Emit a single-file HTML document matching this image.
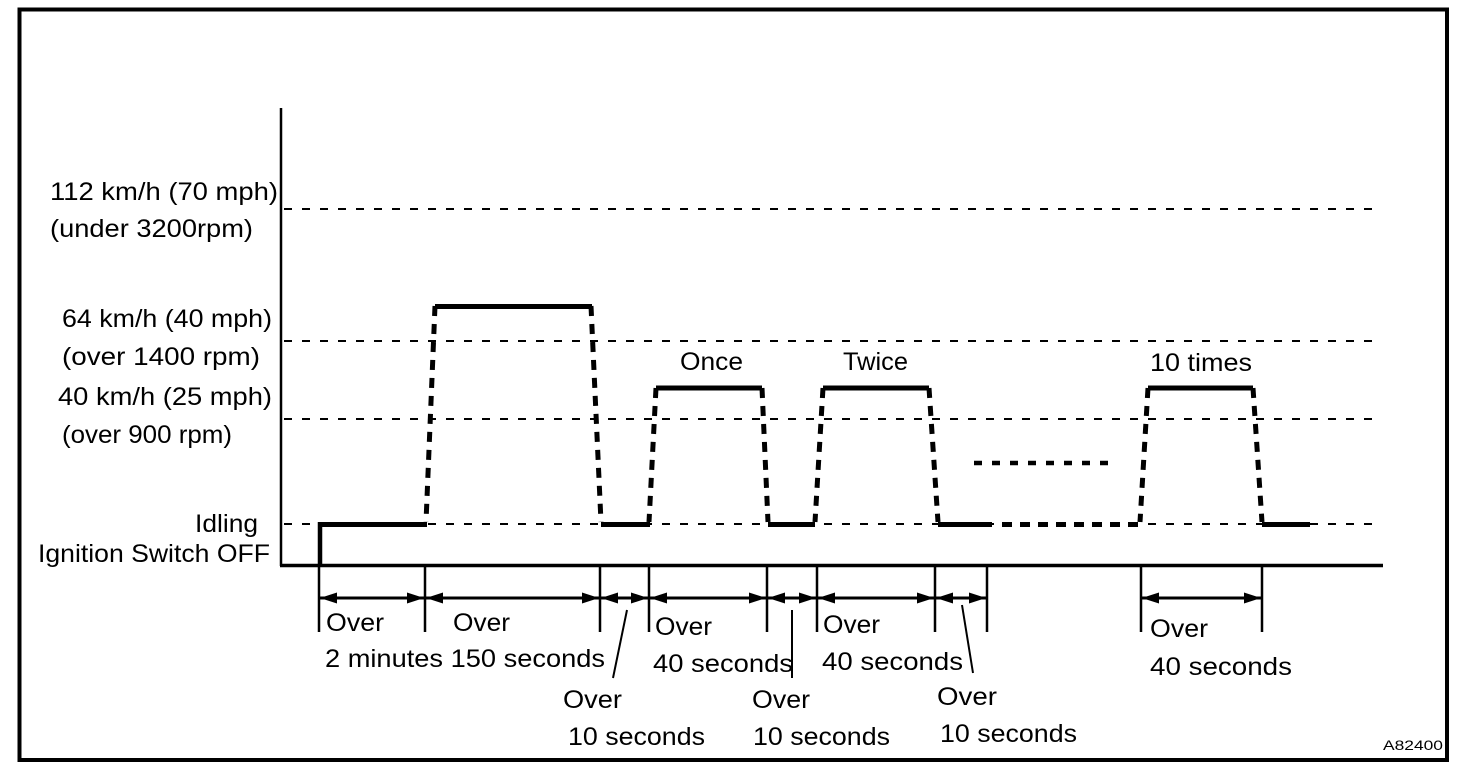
<!DOCTYPE html>
<html>
<head>
<meta charset="utf-8">
<style>
html,body{margin:0;padding:0;background:#fff;}
svg{display:block;}
text{font-family:"Liberation Sans",Arial,sans-serif;font-size:25px;fill:#000;}
</style>
</head>
<body>
<svg width="1472" height="774" viewBox="0 0 1472 774" xmlns="http://www.w3.org/2000/svg">
<rect x="0" y="0" width="1472" height="774" fill="#fff"/>
<!-- border -->
<rect x="19.5" y="9.5" width="1427.5" height="750.5" fill="none" stroke="#000" stroke-width="4"/>

<!-- thin dashed reference lines -->
<g stroke="#000" stroke-width="2" stroke-dasharray="8 10" fill="none">
  <line x1="284" y1="209" x2="1380" y2="209"/>
  <line x1="284" y1="341" x2="1380" y2="341"/>
  <line x1="284" y1="419" x2="1380" y2="419"/>
  <line x1="284" y1="524" x2="1374" y2="524"/>
</g>

<!-- axes -->
<line x1="281" y1="108" x2="281" y2="566" stroke="#000" stroke-width="2.5"/>
<line x1="280" y1="565.5" x2="1383" y2="565.5" stroke="#000" stroke-width="3.5"/>

<!-- solid thick segments -->
<g stroke="#000" stroke-width="5" fill="none">
  <line x1="320" y1="522" x2="320" y2="566" stroke-width="4.5"/>
  <line x1="318" y1="524.5" x2="427" y2="524.5"/>
  <line x1="435" y1="306.5" x2="592" y2="306.5"/>
  <line x1="601" y1="524.5" x2="650" y2="524.5"/>
  <line x1="656" y1="388" x2="762" y2="388"/>
  <line x1="768" y1="524.5" x2="815" y2="524.5"/>
  <line x1="823" y1="388" x2="929" y2="388"/>
  <line x1="938" y1="524.5" x2="992" y2="524.5"/>
  <line x1="1148" y1="388" x2="1253" y2="388"/>
  <line x1="1262" y1="524.5" x2="1310" y2="524.5"/>
</g>

<!-- dashed thick slopes -->
<g stroke="#000" stroke-width="5" stroke-dasharray="10 8" fill="none">
  <line x1="435" y1="306" x2="426" y2="522"/>
  <line x1="591" y1="306" x2="601" y2="522"/>
  <line x1="656" y1="388" x2="649" y2="522"/>
  <line x1="762" y1="388" x2="768" y2="522"/>
  <line x1="823" y1="388" x2="815" y2="522"/>
  <line x1="929" y1="388" x2="938" y2="522"/>
  <line x1="1148" y1="388" x2="1140" y2="522"/>
  <line x1="1253" y1="388" x2="1262" y2="522"/>
  <line x1="1002" y1="524.5" x2="1142" y2="524.5"/>
</g>
<line x1="974" y1="463" x2="1116" y2="463" stroke="#000" stroke-width="4.5" stroke-dasharray="8 10"/>

<!-- ticks -->
<g stroke="#000" stroke-width="2.5">
  <line x1="319" y1="565" x2="319" y2="632"/>
  <line x1="425" y1="565" x2="425" y2="632"/>
  <line x1="600" y1="565" x2="600" y2="632"/>
  <line x1="649" y1="565" x2="649" y2="632"/>
  <line x1="767" y1="565" x2="767" y2="632"/>
  <line x1="817" y1="565" x2="817" y2="632"/>
  <line x1="935" y1="565" x2="935" y2="632"/>
  <line x1="987" y1="565" x2="987" y2="632"/>
  <line x1="1141" y1="565" x2="1141" y2="632"/>
  <line x1="1262" y1="565" x2="1262" y2="632"/>
</g>

<!-- arrow lines -->
<g stroke="#000" stroke-width="3">
  <line x1="319" y1="598" x2="425" y2="598"/>
  <line x1="425" y1="598" x2="600" y2="598"/>
  <line x1="600" y1="598" x2="649" y2="598"/>
  <line x1="649" y1="598" x2="767" y2="598"/>
  <line x1="767" y1="598" x2="817" y2="598"/>
  <line x1="817" y1="598" x2="935" y2="598"/>
  <line x1="935" y1="598" x2="987" y2="598"/>
  <line x1="1141" y1="598" x2="1262" y2="598"/>
</g>
<g fill="#000">
  <!-- left-pointing heads (at left ends) and right-pointing heads (at right ends) -->
  <polygon points="320,598 337,592.5 337,603.5"/><polygon points="424,598 407,592.5 407,603.5"/>
  <polygon points="426,598 443,592.5 443,603.5"/><polygon points="599,598 582,592.5 582,603.5"/>
  <polygon points="601,598 618,592.5 618,603.5"/><polygon points="648,598 631,592.5 631,603.5"/>
  <polygon points="650,598 667,592.5 667,603.5"/><polygon points="766,598 749,592.5 749,603.5"/>
  <polygon points="768,598 785,592.5 785,603.5"/><polygon points="816,598 799,592.5 799,603.5"/>
  <polygon points="818,598 835,592.5 835,603.5"/><polygon points="934,598 917,592.5 917,603.5"/>
  <polygon points="936,598 953,592.5 953,603.5"/><polygon points="986,598 969,592.5 969,603.5"/>
  <polygon points="1142,598 1159,592.5 1159,603.5"/><polygon points="1261,598 1244,592.5 1244,603.5"/>
</g>

<!-- leader lines -->
<g stroke="#000" stroke-width="2">
  <line x1="627" y1="610" x2="613" y2="678"/>
  <line x1="792" y1="610" x2="792" y2="678"/>
  <line x1="962" y1="605" x2="973" y2="673"/>
</g>

<!-- left labels -->
<text x="50" y="200" textLength="228" lengthAdjust="spacingAndGlyphs">112 km/h (70 mph)</text>
<text x="50" y="237" textLength="203" lengthAdjust="spacingAndGlyphs">(under 3200rpm)</text>
<text x="62" y="327" textLength="210" lengthAdjust="spacingAndGlyphs">64 km/h (40 mph)</text>
<text x="62" y="365" textLength="198" lengthAdjust="spacingAndGlyphs">(over 1400 rpm)</text>
<text x="58" y="405" textLength="214" lengthAdjust="spacingAndGlyphs">40 km/h (25 mph)</text>
<text x="62" y="443" textLength="170" lengthAdjust="spacingAndGlyphs">(over 900 rpm)</text>
<text x="195" y="532" textLength="63" lengthAdjust="spacingAndGlyphs">Idling</text>
<text x="38" y="562" textLength="232" lengthAdjust="spacingAndGlyphs">Ignition Switch OFF</text>

<!-- pulse labels -->
<text x="680" y="370" textLength="63" lengthAdjust="spacingAndGlyphs">Once</text>
<text x="843" y="370" textLength="65" lengthAdjust="spacingAndGlyphs">Twice</text>
<text x="1150" y="371" textLength="102" lengthAdjust="spacingAndGlyphs">10 times</text>

<!-- bottom labels -->
<text x="326" y="631" textLength="58" lengthAdjust="spacingAndGlyphs">Over</text>
<text x="453" y="631" textLength="57" lengthAdjust="spacingAndGlyphs">Over</text>
<text x="325" y="667" textLength="280" lengthAdjust="spacingAndGlyphs">2 minutes 150 seconds</text>
<text x="563" y="708" textLength="59" lengthAdjust="spacingAndGlyphs">Over</text>
<text x="568" y="745" textLength="137" lengthAdjust="spacingAndGlyphs">10 seconds</text>
<text x="655" y="635" textLength="57" lengthAdjust="spacingAndGlyphs">Over</text>
<text x="653" y="672" textLength="140" lengthAdjust="spacingAndGlyphs">40 seconds</text>
<text x="752" y="708" textLength="58" lengthAdjust="spacingAndGlyphs">Over</text>
<text x="753" y="745" textLength="137" lengthAdjust="spacingAndGlyphs">10 seconds</text>
<text x="823" y="633" textLength="57" lengthAdjust="spacingAndGlyphs">Over</text>
<text x="822" y="670" textLength="141" lengthAdjust="spacingAndGlyphs">40 seconds</text>
<text x="937" y="705" textLength="60" lengthAdjust="spacingAndGlyphs">Over</text>
<text x="940" y="742" textLength="137" lengthAdjust="spacingAndGlyphs">10 seconds</text>
<text x="1150" y="637" textLength="58" lengthAdjust="spacingAndGlyphs">Over</text>
<text x="1150" y="675" textLength="142" lengthAdjust="spacingAndGlyphs">40 seconds</text>

<text x="1383" y="750" style="font-size:14px" textLength="60" lengthAdjust="spacingAndGlyphs">A82400</text>
</svg>
</body>
</html>
